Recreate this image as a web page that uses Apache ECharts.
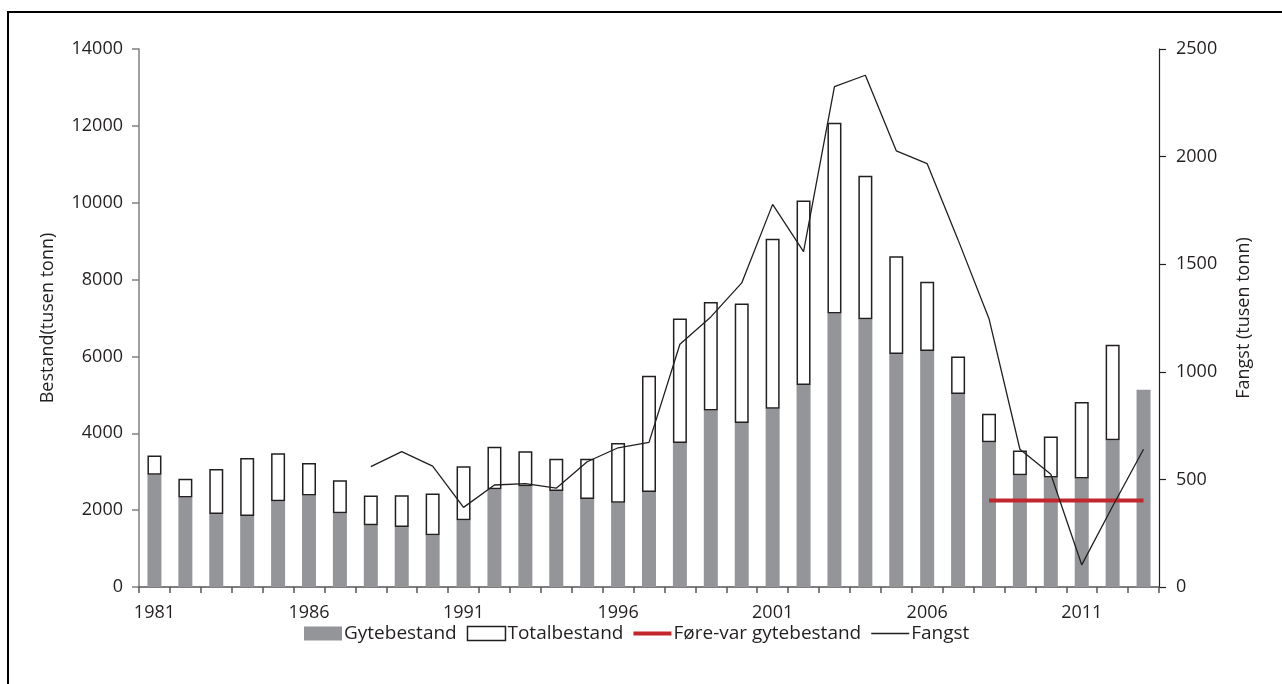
<!DOCTYPE html>
<html>
<head>
<meta charset="utf-8">
<script src="https://cdn.jsdelivr.net/npm/echarts@6/dist/echarts.min.js"></script>
<style>
html,body{margin:0;padding:0;background:#fff;}
#chart{width:1282px;height:684px;}
</style>
</head>
<body>
<div id="chart"></div>
<script>
const years = ['1981','1982','1983','1984','1985','1986','1987','1988','1989','1990','1991','1992','1993','1994','1995','1996','1997','1998','1999','2000','2001','2002','2003','2004','2005','2006','2007','2008','2009','2010','2011','2012','2013'];
const gytebestand = [2920,2330,1900,1850,2230,2380,1920,1610,1560,1345,1735,2545,2620,2500,2290,2190,2475,3750,4590,4270,4640,5255,7120,6970,6065,6140,5020,3765,2905,2850,2825,3820,5130];
const totalbestand = [3420,2820,3070,3360,3480,3230,2775,2380,2385,2430,3140,3650,3535,3340,3340,3745,5500,6985,7415,7375,9065,10060,12080,10700,8605,7945,6000,4510,3550,3915,4815,6305,null];
const foreVar = [null,null,null,null,null,null,null,null,null,null,null,null,null,null,null,null,null,null,null,null,null,null,null,null,null,null,null,2250,2250,2250,2250,2250,2250];
const fangst = [null,null,null,null,null,null,null,559,629,562,370,474,480,459,582,647,672,1128,1255,1413,1778,1558,2325,2378,2027,1967,1613,1247,640,524,103,375,640];
const leftTicks = {min:0,max:14000,interval:2000};
const rightTicks = {min:0,max:2500,interval:500};

const totalTop = totalbestand.map((t,i)=> t==null ? null : t - gytebestand[i]);
const font = '"Open Sans", "Noto Sans", sans-serif';
const txt = '#231f20';
// line icons: tiny corner marks keep the 38x14 box so the bar stays thin
const thickLine = 'path://M0,0L0.01,0L0,0.01Z M0,5L38,5L38,9L0,9Z M0,14L0.01,14L0,13.99Z';
const thinLine = 'path://M0,0L0.01,0L0,0.01Z M0,6.3L38,6.3L38,7.7L0,7.7Z M0,14L0.01,14L0,13.99Z';

const chart = echarts.init(document.getElementById('chart'));
chart.setOption({
  animation:false,
  textStyle:{fontFamily:font,color:txt},
  graphic:[{type:'rect',shape:{x:8,y:12,width:1290,height:700},style:{fill:'none',stroke:'#000',lineWidth:2},silent:true}],
  grid:{left:139,right:123,top:49,bottom:97},
  legend:{
    left:299, top:619, itemWidth:38, itemHeight:14, itemGap:10,
    textStyle:{fontFamily:font,fontSize:19,color:txt,padding:[0,0,0,-3]},
    data:[
      {name:'Gytebestand', icon:'rect', itemStyle:{color:'#939598'}},
      {name:'Totalbestand', icon:'rect', itemStyle:{color:'#fff',borderColor:'#231f20',borderWidth:1.5}},
      {name:'Føre-var gytebestand', icon:thickLine, itemStyle:{color:'#c1272d',borderWidth:0}},
      {name:'Fangst', icon:thinLine, itemStyle:{color:'#231f20',borderWidth:0}}
    ]
  },
  xAxis:{
    type:'category', data:years, boundaryGap:true,
    axisLine:{lineStyle:{color:'#555',width:1.5}},
    axisTick:{show:true,interval:0,length:6,lineStyle:{color:'#555',width:1.5}},
    axisLabel:{interval:4,margin:17,fontSize:18,color:txt,fontFamily:font}
  },
  yAxis:[
    {type:'value',min:leftTicks.min,max:leftTicks.max,interval:leftTicks.interval,
     name:'Bestand(tusen tonn)',nameLocation:'middle',nameRotate:90,nameGap:82,
     nameTextStyle:{fontSize:18,color:txt,fontFamily:font},
     axisLine:{show:true,lineStyle:{color:'#808080',width:1.5}},
     axisTick:{show:true,length:7,lineStyle:{color:'#808080',width:1.5}},
     axisLabel:{margin:16,fontSize:18,color:txt,fontFamily:font,formatter:v=>String(v)},
     splitLine:{show:false}},
    {type:'value',min:rightTicks.min,max:rightTicks.max,interval:rightTicks.interval,position:'right',
     name:'Fangst (tusen tonn)',nameLocation:'middle',nameRotate:90,nameGap:76,
     nameTextStyle:{fontSize:18,color:txt,fontFamily:font},
     axisLine:{show:true,lineStyle:{color:'#231f20',width:1.2}},
     axisTick:{show:true,length:7,lineStyle:{color:'#231f20',width:1.2}},
     axisLabel:{margin:17,fontSize:18,color:txt,fontFamily:font,formatter:v=>String(v)},
     splitLine:{show:false}}
  ],
  series:[
    {name:'Gytebestand',type:'bar',stack:'b',data:gytebestand,barWidth:14,
     itemStyle:{color:'#939598'},z:2},
    {name:'Totalbestand',type:'bar',stack:'b',data:totalTop,barWidth:14,
     itemStyle:{color:'#fff',borderColor:'#231f20',borderWidth:1.5},z:2},
    {name:'Føre-var gytebestand',type:'line',data:foreVar,showSymbol:false,symbol:'none',
     lineStyle:{color:'#c1272d',width:4},itemStyle:{color:'#c1272d'},z:4},
    {name:'Fangst',type:'line',yAxisIndex:1,data:fangst,showSymbol:false,symbol:'none',
     lineStyle:{color:'#231f20',width:1.3},itemStyle:{color:'#231f20'},z:5}
  ]
});
</script>
</body>
</html>
